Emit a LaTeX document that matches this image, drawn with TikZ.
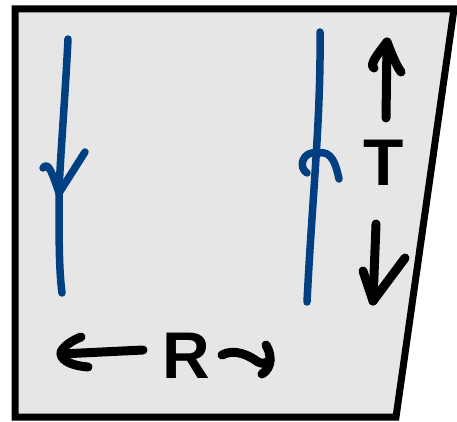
\documentclass[tikz,border=0pt]{standalone}
\usepackage{fontspec}
\setsansfont{Liberation Sans}
\definecolor{penblue}{RGB}{0,64,130}
\definecolor{paper}{RGB}{230,230,230}
\begin{document}
\begin{tikzpicture}[x=1pt,y=-1pt,
  frame/.style={draw=black,line width=7pt,fill=paper,line join=miter},
  bluepen/.style={draw=penblue,line width=7.5pt,line cap=round,line join=round},
  blackpen/.style={draw=black,line width=9pt,line cap=round,line join=round},
  letter/.style={font=\sffamily\bfseries\fontsize{66}{66}\selectfont,inner sep=0pt}]
\useasboundingbox (0,0) rectangle (457,422);
% frame
\coordinate (tl) at (15,9);
\coordinate (tr) at (454,9);
\coordinate (br) at (396,417);
\coordinate (bl) at (15,417);
\draw[frame] (tl) -- (tr) -- (br) -- (bl) -- cycle;
% left blue line, arrow down
\coordinate (lt) at (68,39);
\coordinate (lm) at (59,193);
\coordinate (lb) at (62,293);
\draw[bluepen] (lt) .. controls (65,100) and (60,160) .. (lm) .. controls (59,240) and (59,270) .. (lb);
\draw[bluepen] (43,168) .. controls (48,160) and (53,175) .. (lm) -- (85,152);
% right blue line, arrow up
\coordinate (rt) at (320,32);
\coordinate (rb) at (307,302);
\coordinate (rm) at (318,153);
\draw[bluepen] (rt) .. controls (321,120) and (312,200) .. (rb);
\draw[bluepen] (307,173) .. controls (298,168) and (302,150) .. (rm) .. controls (332,150) and (336,165) .. (339,179);
% T with arrows
\node[letter] (T) at (384,163) {T};
\coordinate (ua1) at (386,118);
\coordinate (ua2) at (387,42);
\draw[blackpen] (ua1) -- (ua2);
\draw[blackpen] (387,42) .. controls (377,55) and (369,65) .. (374,68) (387,42) .. controls (392,55) and (396,65) .. (401,72);
\coordinate (da1) at (376,224);
\coordinate (da2) at (373,301);
\draw[blackpen] (da1) -- (da2);
\draw[blackpen] (363,271) -- (da2) -- (405,258);
% R with arrows
\node[letter] (R) at (186,356) {R};
\coordinate (la1) at (143,350);
\coordinate (la2) at (61,354);
\draw[blackpen] (la1) -- (la2);
\draw[blackpen] (81,337) .. controls (68,342) and (60,350) .. (la2) .. controls (62,362) and (75,366) .. (88,367);
\coordinate (ra1) at (222,355);
\coordinate (ra2) at (270,360);
\draw[blackpen] (ra1) .. controls (235,348) and (250,356) .. (258,362) .. controls (263,365) and (268,362) .. (ra2);
\draw[blackpen] (266,345) .. controls (272,355) and (272,368) .. (262,374);
\end{tikzpicture}
\end{document}
